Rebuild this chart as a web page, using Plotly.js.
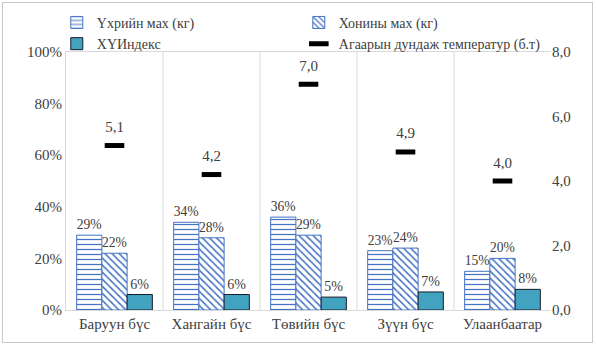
<!DOCTYPE html>
<html><head><meta charset="utf-8">
<script src="https://cdn.plot.ly/plotly-3.0.1.min.js"></script>
<style>body{margin:0;background:#fff}#wrap{position:relative;width:597px;height:352px}
#frame{position:absolute;left:2px;top:2px;width:589px;height:339px;border:1px solid #c8c8c8;pointer-events:none}</style>
</head><body>
<div id="wrap"><div id="chart" style="width:597px;height:352px"></div><div id="frame"></div></div>
<script>
const categories = ["Баруун бүс", "Хангайн бүс", "Төвийн бүс", "Зүүн бүс", "Улаанбаатар"];
const beef = [29, 34, 36, 23, 15];
const mutton = [22, 28, 29, 24, 20];
const cpi = [6, 6, 5, 7, 8];
const temperature = [5.1, 4.2, 7.0, 4.9, 4.0];
const leftTicks = [0, 20, 40, 60, 80, 100];
const rightTicks = [0, 2, 4, 6, 8];

const FAM = "Liberation Serif";
const font = {family: FAM, color: "#404040", size: 15};
const blue = "#4472C4";

const traces = [
  {type: "bar", name: "Үхрийн мах (кг)", x: categories, y: beef, legend: "legend",
   marker: {color: "#ffffff", line: {color: blue, width: 1},
     pattern: {shape: "-", fgcolor: blue, bgcolor: "#ffffff", size: 5, solidity: 0.25}},
   text: beef.map(v => v + "%"), textposition: "outside", cliponaxis: false,
   textfont: {family: FAM, color: "#404040", size: 14}},
  {type: "bar", name: "Хонины мах (кг)", x: categories, y: mutton, legend: "legend2",
   marker: {color: "#ffffff", line: {color: blue, width: 1},
     pattern: {shape: "\\", fgcolor: blue, bgcolor: "#ffffff", size: 5, solidity: 0.3}},
   text: mutton.map(v => v + "%"), textposition: "outside", cliponaxis: false,
   textfont: {family: FAM, color: "#404040", size: 14}},
  {type: "bar", name: "ХҮИндекс", x: categories, y: cpi, legend: "legend",
   marker: {color: "#41A3BF", line: {color: "#1a1a2a", width: 1}},
   text: cpi.map(v => v + "%"), textposition: "outside", cliponaxis: false,
   textfont: {family: FAM, color: "#404040", size: 14}},
  {type: "scatter", mode: "markers+text", name: "Агаарын дундаж температур (б.т)", x: categories, y: temperature,
   yaxis: "y2", legend: "legend2",
   marker: {symbol: "line-ew", size: 14, color: "#000", line: {color: "#000", width: 5}},
   text: temperature.map(v => v.toFixed(1).replace(".", ",")), textposition: "top center",
   textfont: {family: FAM, color: "#404040", size: 15}, cliponaxis: false}
];

const shapes = [];
for (let i = 0; i < categories.length - 1; i++) {
  shapes.push({type: "line", xref: "x", yref: "paper", x0: i + 0.5, x1: i + 0.5, y0: 0, y1: 1,
    line: {color: "#d9d9d9", width: 1}, layer: "below"});
}

const layout = {
  width: 597, height: 352,
  margin: {l: 66, r: 46, t: 52, b: 42, autoexpand: false},
  paper_bgcolor: "#fff", plot_bgcolor: "#fff",
  font: font, separators: ", ",
  barmode: "group", bargap: 0.22, bargroupgap: 0,
  showlegend: true,
  xaxis: {type: "category", showgrid: false, showline: true, linecolor: "#d9d9d9", mirror: true,
    ticks: "", tickfont: font, range: [-0.5, 4.5], automargin: false},
  yaxis: {range: [0, 100], tickvals: leftTicks, ticktext: leftTicks.map(v => v + "%"), automargin: false,
    showgrid: false, zeroline: false, showline: true, linecolor: "#d9d9d9", ticks: "", tickfont: font},
  yaxis2: {range: [0, 8], tickvals: rightTicks, ticktext: rightTicks.map(v => v.toFixed(1).replace(".", ",")), automargin: false,
    overlaying: "y", side: "right", showgrid: false, zeroline: false, showline: false, ticks: "", tickfont: font},
  legend: {x: -0.019, y: 1.175, xanchor: "left", yanchor: "top", orientation: "v",
    font: {family: FAM, color: "#404040", size: 14}, tracegroupgap: 0, itemwidth: 30,
    bgcolor: "rgba(0,0,0,0)"},
  legend2: {x: 0.48, y: 1.175, xanchor: "left", yanchor: "top", orientation: "v",
    font: {family: FAM, color: "#404040", size: 14}, tracegroupgap: 0, itemwidth: 30,
    bgcolor: "rgba(0,0,0,0)"},
  shapes: shapes
};

Plotly.newPlot("chart", traces, layout, {displayModeBar: false, staticPlot: true});
</script>
</body></html>
